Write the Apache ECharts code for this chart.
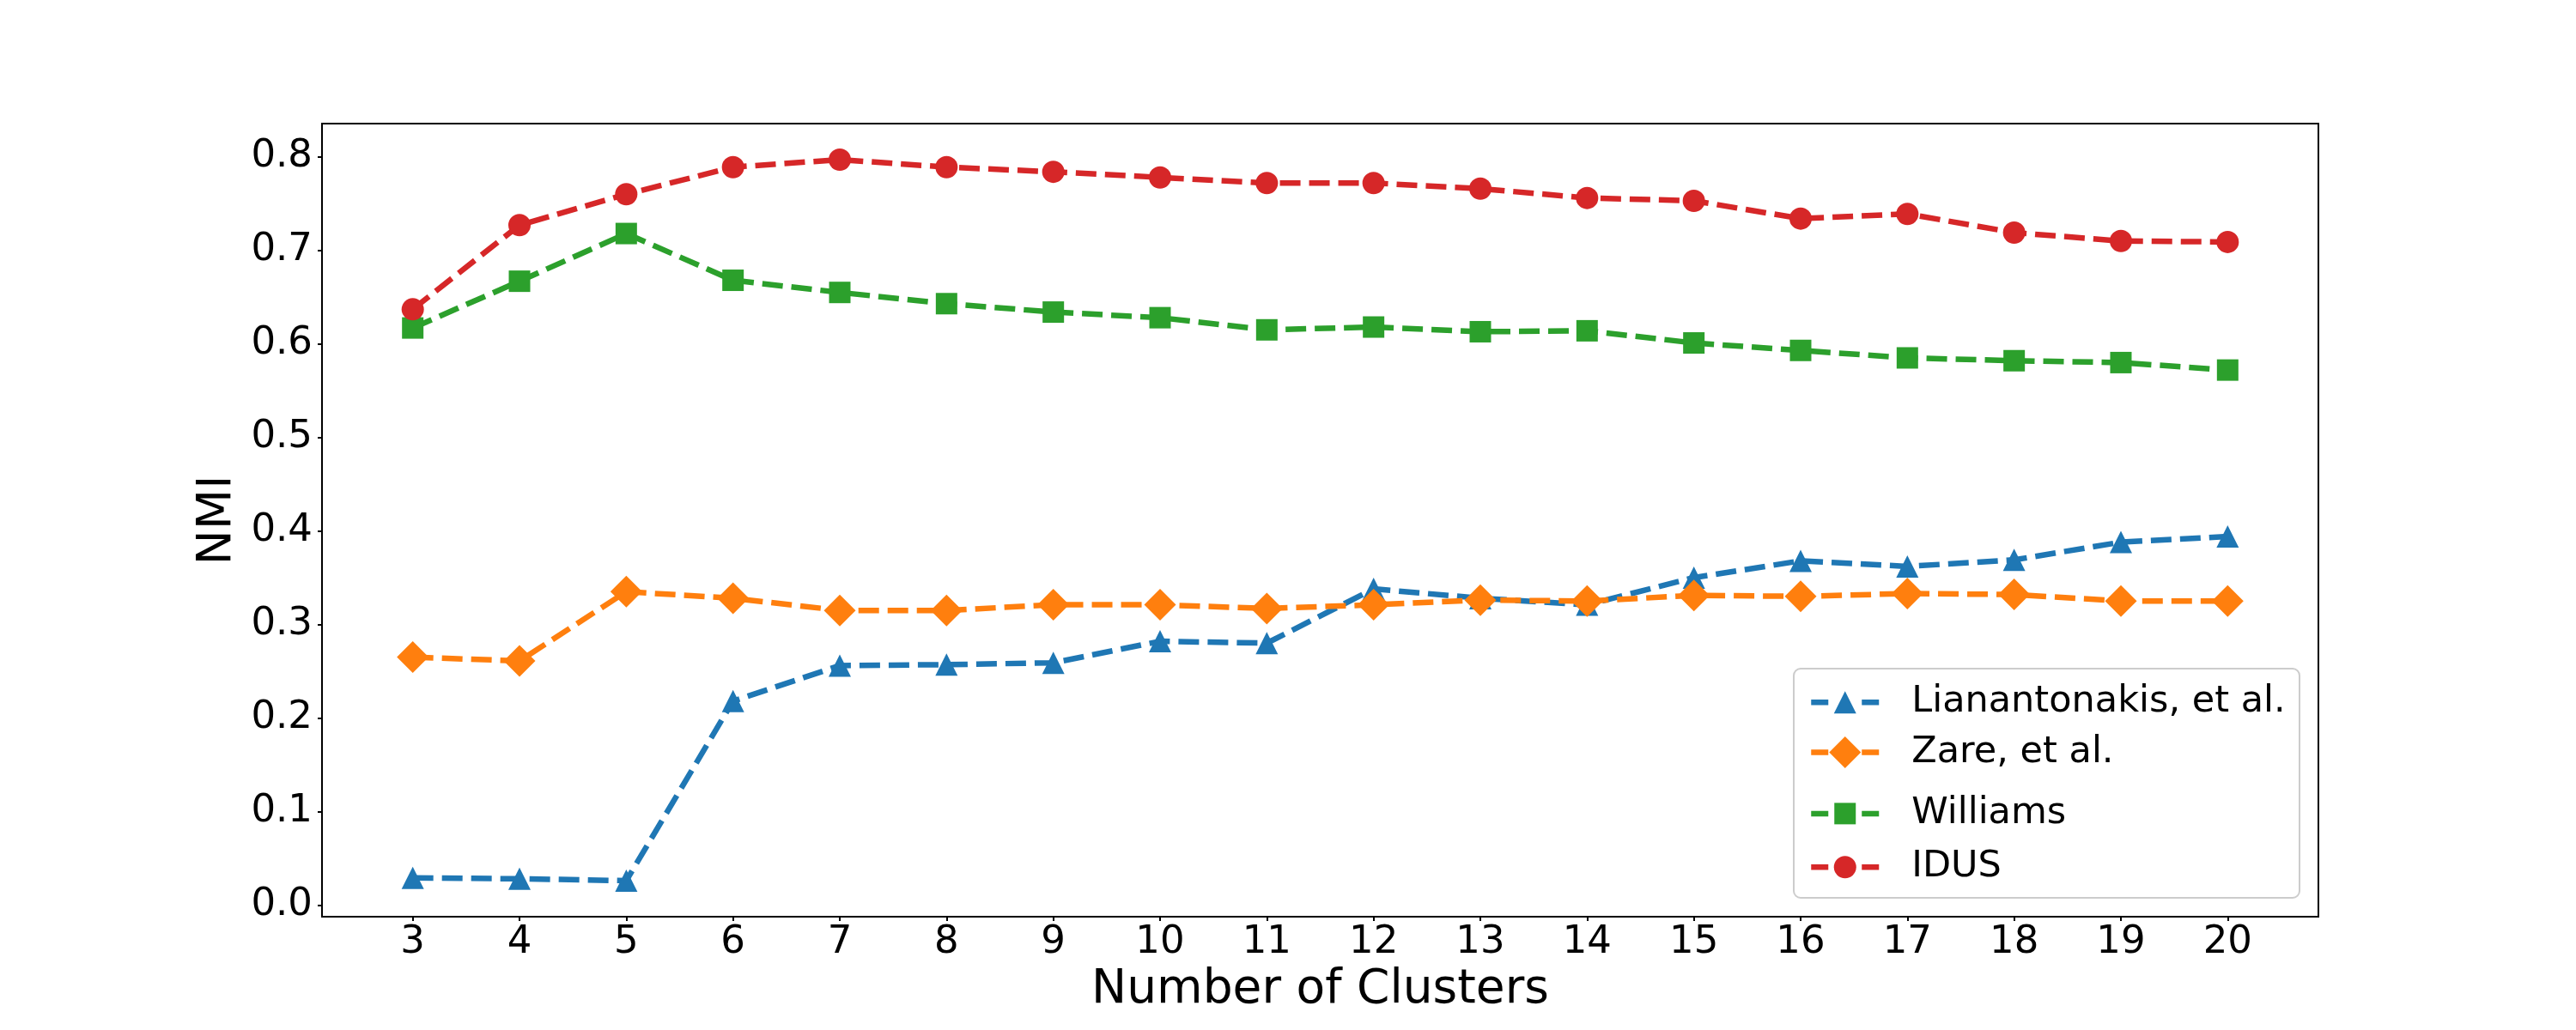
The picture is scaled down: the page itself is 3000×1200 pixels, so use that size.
<!DOCTYPE html>
<html><head><meta charset="utf-8">
<script src="https://cdn.jsdelivr.net/npm/echarts@6/dist/echarts.min.js"></script>
<style>html,body{margin:0;padding:0;background:#fff}#c{width:3000px;height:1200px}</style>
</head><body><div id="c"></div>
<script>
// ---- data ----
const clusters = [3,4,5,6,7,8,9,10,11,12,13,14,15,16,17,18,19,20];
const lianantonakis = [0.029,0.028,0.026,0.218,0.256,0.257,0.259,0.282,0.280,0.338,0.328,0.321,0.350,0.368,0.362,0.369,0.388,0.394];
const zare = [0.265,0.261,0.335,0.328,0.315,0.315,0.321,0.321,0.317,0.321,0.326,0.325,0.331,0.330,0.333,0.332,0.325,0.325];
const williams = [0.617,0.667,0.718,0.668,0.655,0.643,0.634,0.628,0.615,0.618,0.613,0.614,0.601,0.593,0.585,0.582,0.580,0.572];
const idus = [0.637,0.727,0.760,0.789,0.797,0.789,0.784,0.778,0.772,0.772,0.766,0.756,0.753,0.734,0.739,0.719,0.710,0.709];
const yTicks = [0.0,0.1,0.2,0.3,0.4,0.5,0.6,0.7,0.8];
const xTicks = clusters;
const names = ['Lianantonakis, et al.','Zare, et al.','Williams','IDUS'];
const values = [lianantonakis, zare, williams, idus];

// ---- style ----
const colors = ['#1f77b4','#ff7f0e','#2ca02c','#d62728'];
const symbols = ['triangle','diamond','rect','circle'];
const symbolSizes = [26,37,25,26];
const FONT = 'DejaVu Sans';

// matplotlib-like 5% margins
const allY = [].concat(...values);
const yMinD = Math.min(...allY), yMaxD = Math.max(...allY);
const yPad = (yMaxD - yMinD) * 0.05;
const xMinD = Math.min(...clusters), xMaxD = Math.max(...clusters);
const xPad = (xMaxD - xMinD) * 0.05;

const series = names.map((n, i) => ({
  name: n,
  type: 'line',
  data: clusters.map((c, j) => [c, values[i][j]]),
  symbol: symbols[i],
  symbolSize: symbolSizes[i],
  showAllSymbol: true,
  lineStyle: {color: colors[i], width: 6.5, type: [24, 10]},
  itemStyle: {color: colors[i]},
  emphasis: {disabled: true},
  animation: false,
  z: 2 + i
}));

const rowCenters = [813, 878, 942, 1005];
const legends = names.map((n, i) => {
  const h = symbolSizes[i] / 0.8;
  return {
    data: [n],
    left: 2106,
    top: rowCenters[i] - h / 2,
    padding: 0,
    itemWidth: 79,
    itemHeight: h,
    selectedMode: false,
    z: 20,
    lineStyle: {width: 6.5, type: [20, 39]},
    textStyle: {fontFamily: FONT, fontSize: 43, color: '#000', lineHeight: 10, padding: [0, 0, 0, 33]}
  };
});

const chart = echarts.init(document.getElementById('c'), null, {renderer: 'canvas'});
chart.setOption({
  backgroundColor: '#fff',
  animation: false,
  color: colors,
  grid: {left: 375, right: 300, top: 144, bottom: 132, show: true, borderColor: '#000', borderWidth: 2, containLabel: false},
  xAxis: {
    type: 'value',
    min: xMinD - xPad, max: xMaxD + xPad,
    name: 'Number of Clusters', nameLocation: 'middle', nameGap: 56,
    nameTextStyle: {fontFamily: FONT, fontSize: 55, color: '#000'},
    splitLine: {show: false},
    axisLine: {show: true, onZero: false, lineStyle: {color: '#000', width: 2}},
    axisTick: {show: true, length: 5, lineStyle: {color: '#000', width: 2}, customValues: xTicks},
    axisLabel: {fontFamily: FONT, fontSize: 45, color: '#000', margin: 8, customValues: xTicks, formatter: v => String(v)}
  },
  yAxis: {
    type: 'value',
    min: yMinD - yPad, max: yMaxD + yPad,
    name: 'NMI', nameLocation: 'middle', nameGap: 92, nameRotate: 90,
    nameTextStyle: {fontFamily: FONT, fontSize: 55, color: '#000'},
    splitLine: {show: false},
    axisLine: {show: true, onZero: false, lineStyle: {color: '#000', width: 2}},
    axisTick: {show: true, length: 5, lineStyle: {color: '#000', width: 2}, customValues: yTicks},
    axisLabel: {fontFamily: FONT, fontSize: 45, color: '#000', margin: 11, customValues: yTicks, formatter: v => v.toFixed(1)}
  },
  legend: legends,
  graphic: [{
    type: 'rect', z: 15,
    shape: {x: 2089, y: 779, width: 589, height: 267, r: 8},
    style: {fill: 'rgba(255,255,255,0.8)', stroke: '#cccccc', lineWidth: 2}
  }],
  series: series
});
</script></body></html>
